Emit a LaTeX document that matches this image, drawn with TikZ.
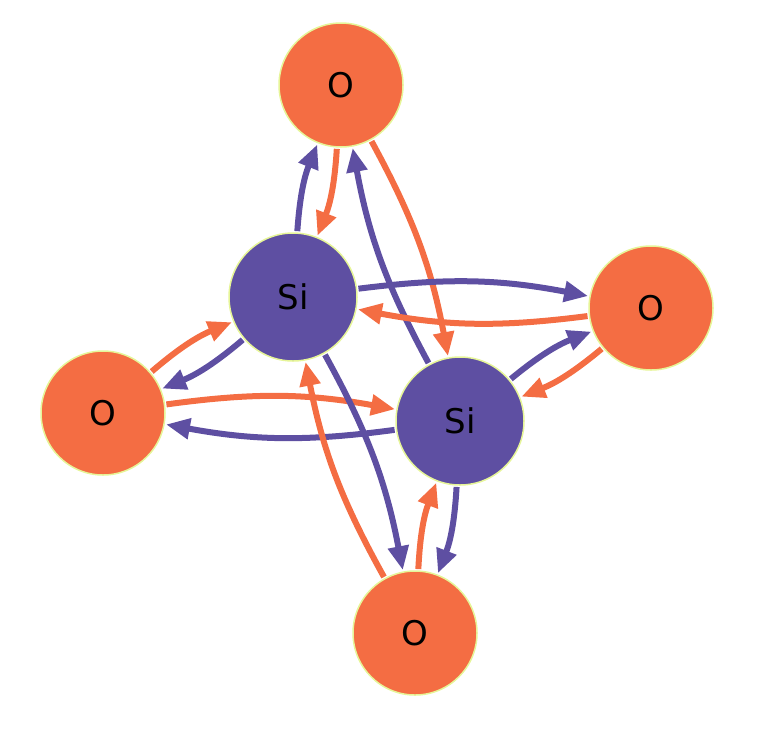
\documentclass[tikz,border=0pt]{standalone}
\usepackage{fontspec}
\setmainfont{DejaVu Sans}
\usetikzlibrary{arrows.meta}
\definecolor{oor}{HTML}{F46D43}
\definecolor{pur}{HTML}{5E4FA2}
\definecolor{rim}{HTML}{E6F598}
\begin{document}
\begin{tikzpicture}[x=1pt,y=-1pt,
  atom/.style={circle,draw=rim,line width=1.5pt,minimum size=124pt,inner sep=0pt,font=\fontsize{34}{36}\selectfont,outer sep=2pt},
  oat/.style={atom,fill=oor},
  siat/.style={atom,fill=pur,minimum size=128pt},
  bond/.style={line width=6pt,-{Triangle[length=24pt,width=20pt]},bend left=9},
  pb/.style={bond,draw=pur,color=pur},
  ob/.style={bond,draw=oor,color=oor}]
\useasboundingbox (0,0) rectangle (762,734);
\node[oat] (ot) at (341,85) {O};
\node[oat] (or) at (651,308) {O};
\node[oat] (ol) at (103,413) {O};
\node[oat] (ob) at (415,633) {O};
\node[siat] (s1) at (293,297) {Si};
\node[siat] (s2) at (460,421) {Si};
\foreach \o in {ot,or,ol,ob}{
  \draw[pb] (s1) to (\o);
  \draw[ob] (\o) to (s1);
  \draw[pb] (s2) to (\o);
  \draw[ob] (\o) to (s2);
}
\end{tikzpicture}
\end{document}
